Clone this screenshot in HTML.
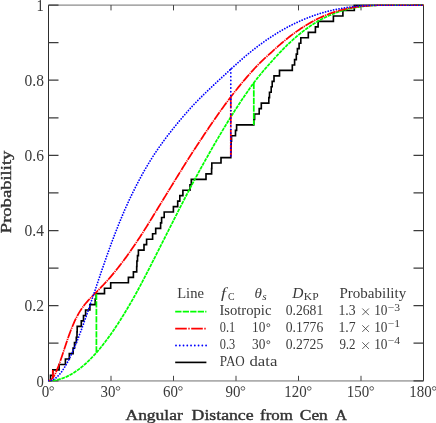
<!DOCTYPE html>
<html><head><meta charset="utf-8"><title>chart</title><style>html,body{margin:0;padding:0;background:#fff}svg{display:block}.t,.t text,.t tspan{font-family:"Liberation Serif",serif}</style></head><body>
<svg width="436" height="423" viewBox="0 0 436 423">
<rect width="436" height="423" fill="#fff"/>
<g stroke="#2e2e2e" fill="none">
<path d="M48.5,5.10V380.80M423.5,5.10V380.80" stroke-width="1"/>
<path d="M48.5,5.10H423.5M48.5,380.95H423.5" stroke-width="0.8" stroke="#4a4a4a"/>
<path d="M48.5,380.80h10M423.5,380.80h-10M48.5,343.23h10M423.5,343.23h-10M48.5,305.66h10M423.5,305.66h-10M48.5,268.09h10M423.5,268.09h-10M48.5,230.52h10M423.5,230.52h-10M48.5,192.95h10M423.5,192.95h-10M48.5,155.38h10M423.5,155.38h-10M48.5,117.81h10M423.5,117.81h-10M48.5,80.24h10M423.5,80.24h-10M48.5,42.67h10M423.5,42.67h-10M48.5,5.10h10M423.5,5.10h-10" stroke-width="1.25" stroke="#3c3c3c"/>
<path d="M111.00,5.10v5.3M111.00,380.80v-5M173.50,5.10v5.3M173.50,380.80v-5M236.00,5.10v5.3M236.00,380.80v-5M298.50,5.10v5.3M298.50,380.80v-5M361.00,5.10v5.3M361.00,380.80v-5" stroke-width="0.9"/>
</g>
<clipPath id="cp"><rect x="47.9" y="4.60" width="376.2" height="376.90"/></clipPath>
<g fill="none" clip-path="url(#cp)">
<path d="M48.5,380.80H50.5V375.36H52.8V369.91H59.1V364.47H65.4V359.02H69.3V353.58H73.1V348.13H74.5V342.69H76.3V337.24H77.0V331.80H77.2V326.35H81.3V320.91H83.5V315.46H85.6V310.02H89.9V304.57H95.2V299.13H96.2V293.68H104.5V288.24H110.7V282.79H128.4V277.35H133.4V271.90H136.7V266.46H136.9V261.01H137.5V255.57H138.4V250.12H144.0V244.68H146.6V239.23H152.6V233.79H155.7V228.34H160.6V222.90H161.6V217.45H164.2V212.01H173.4V206.56H177.7V201.12H179.8V195.67H182.9V190.23H190.0V184.78H191.3V179.34H206.0V173.89H211.6V168.45H211.8V163.00H221.0V157.56H230.8V152.11H231.0V146.67H231.2V141.22H231.5V135.78H235.5V130.33H236.6V124.89H253.8V119.44H254.6V114.00H259.2V108.55H261.3V103.11H268.8V97.66H269.5V92.22H271.2V86.77H272.2V81.33H274.0V75.88H279.5V70.44H292.3V64.99H294.6V59.55H296.3V54.10H297.4V48.66H299.1V43.21H300.8V37.77H308.3V32.32H315.4V26.88H318.1V21.43H333.4V15.99H342.9V10.54H354.3V5.10H423.5" stroke="#000" stroke-width="1.65" stroke-linejoin="miter"/>
<g stroke="#00ff00" stroke-width="1.75">
<path d="M48.50,380.80L49.54,380.79L50.58,380.74L51.62,380.68L52.67,380.58L53.71,380.45L54.75,380.30L55.79,380.13L56.83,379.92L57.88,379.68L58.92,379.43L59.96,379.13L61.00,378.82L62.04,378.48L63.08,378.10L64.12,377.71L65.17,377.29L66.21,376.84L67.25,376.36L68.29,375.85L69.33,375.32L70.38,374.76L71.42,374.18L72.46,373.57L73.50,372.94L74.54,372.27L75.58,371.58L76.62,370.88L77.67,370.13L78.71,369.37L79.75,368.58L80.79,367.76L81.83,366.93L82.88,366.06L83.92,365.17L84.96,364.25L86.00,363.32L87.04,362.35L88.08,361.36L89.12,360.35L90.17,359.31L91.21,358.25L92.25,357.18L93.29,356.07L94.33,354.94L95.38,353.79L96.42,352.62L97.46,351.43L98.50,350.21L99.54,348.97L100.58,347.71L101.62,346.42L102.67,345.13L103.71,343.79L104.75,342.46L105.79,341.08L106.83,339.70L107.88,338.29L108.92,336.87L109.96,335.42L111.00,333.96L112.04,332.47L113.08,330.97L114.12,329.46L115.17,327.92L116.21,326.35L117.25,324.77L118.29,323.18L119.33,321.57L120.38,319.94L121.42,318.30L122.46,316.63L123.50,314.95L124.54,313.25L125.58,311.55L126.62,309.82L127.67,308.07L128.71,306.31L129.75,304.53L130.79,302.74L131.83,300.92L132.88,299.11L133.92,297.26L134.96,295.40L136.00,293.52L137.04,291.64L138.08,289.71L139.12,287.78L140.17,285.84L141.21,283.88L142.25,281.93L143.29,279.94L144.33,277.94L145.38,275.95L146.42,273.93L147.46,271.91L148.50,269.88L149.54,267.85L150.58,265.79L151.62,263.74L152.67,261.71L153.71,259.63L154.75,257.57L155.79,255.52L156.83,253.44L157.88,251.40L158.92,249.33L159.96,247.26L161.00,245.21L162.04,243.15L163.08,241.09L164.12,239.03L165.17,236.98L166.21,234.90L167.25,232.84L168.29,230.79L169.33,228.71L170.38,226.66L171.42,224.62L172.46,222.54L173.50,220.48L174.54,218.43L175.58,216.36L176.62,214.31L177.67,212.27L178.71,210.20L179.75,208.18L180.79,206.15L181.83,204.10L182.88,202.07L183.92,200.04L184.96,198.01L186.00,196.01L187.04,194.00L188.08,192.00L189.12,190.01L190.17,188.03L191.21,186.07L192.25,184.11L193.29,182.17L194.33,180.24L195.38,178.31L196.42,176.39L197.46,174.47L198.50,172.57L199.54,170.68L200.58,168.77L201.62,166.90L202.67,165.02L203.71,163.15L204.75,161.28L205.79,159.43L206.83,157.57L207.88,155.72L208.92,153.88L209.96,152.04L211.00,150.22L212.04,148.40L213.08,146.57L214.12,144.79L215.17,142.97L216.21,141.18L217.25,139.40L218.29,137.64L219.33,135.85L220.38,134.12L221.42,132.35L222.46,130.60L223.50,128.88L224.54,127.13L225.58,125.43L226.62,123.72L227.67,122.02L228.71,120.32L229.75,118.64L230.79,116.98L231.83,115.30L232.88,113.66L233.92,112.02L234.96,110.37L236.00,108.78L237.04,107.17L238.08,105.55L239.12,103.97L240.17,102.40L241.21,100.83L242.25,99.28L243.29,97.73L244.33,96.19L245.38,94.68L246.42,93.17L247.46,91.68L248.50,90.19L249.54,88.73L250.58,87.25L251.63,85.80L252.67,84.39L253.71,82.95L254.75,81.57L255.79,80.22L256.83,78.86L257.88,77.54L258.92,76.24L259.96,74.95L261.00,73.70L262.04,72.45L263.08,71.20L264.12,69.99L265.17,68.78L266.21,67.58L267.25,66.42L268.29,65.23L269.33,64.05L270.38,62.91L271.42,61.74L272.46,60.58L273.50,59.44L274.54,58.28L275.58,57.12L276.62,55.99L277.67,54.85L278.71,53.73L279.75,52.63L280.79,51.54L281.83,50.45L282.88,49.38L283.92,48.33L284.96,47.28L286.00,46.26L287.04,45.24L288.08,44.22L289.12,43.24L290.17,42.27L291.21,41.28L292.25,40.34L293.29,39.41L294.33,38.47L295.38,37.57L296.42,36.68L297.46,35.79L298.50,34.94L299.54,34.08L300.58,33.23L301.62,32.43L302.67,31.61L303.71,30.80L304.75,30.03L305.79,29.26L306.83,28.49L307.88,27.75L308.92,27.02L309.96,26.30L311.00,25.60L312.04,24.91L313.08,24.23L314.12,23.56L315.17,22.92L316.21,22.27L317.25,21.66L318.29,21.05L319.33,20.45L320.38,19.89L321.42,19.32L322.46,18.76L323.50,18.23L324.54,17.71L325.58,17.20L326.62,16.70L327.67,16.22L328.71,15.75L329.75,15.29L330.79,14.85L331.83,14.41L332.88,13.99L333.92,13.58L334.96,13.18L336.00,12.80L337.04,12.42L338.08,12.05L339.12,11.70L340.17,11.36L341.21,11.02L342.25,10.71L343.29,10.40L344.33,10.09L345.38,9.81L346.42,9.53L347.46,9.26L348.50,9.00L349.54,8.75L350.58,8.51L351.62,8.28L352.67,8.07L353.71,7.85L354.75,7.65L355.79,7.46L356.83,7.27L357.88,7.10L358.92,6.94L359.96,6.78L361.00,6.63L362.04,6.49L363.08,6.35L364.12,6.23L365.17,6.11L366.21,6.00L367.25,5.90L368.29,5.80L369.33,5.71L370.38,5.63L371.42,5.55L372.46,5.48L373.50,5.42L374.54,5.37L375.58,5.31L376.62,5.27L377.67,5.23L378.71,5.20L379.75,5.20L380.79,5.20L381.83,5.20L382.88,5.20L383.92,5.20L384.96,5.20L386.00,5.20L387.04,5.20L388.08,5.20L389.12,5.20L390.17,5.20L391.21,5.20L392.25,5.20L393.29,5.20L394.33,5.20L395.38,5.20L396.42,5.20L397.46,5.20L398.50,5.20L399.54,5.20L400.58,5.20L401.62,5.20L402.67,5.20L403.71,5.20L404.75,5.20L405.79,5.20L406.83,5.20L407.88,5.20L408.92,5.20L409.96,5.20L411.00,5.20L412.04,5.20L413.08,5.20L414.12,5.20L415.17,5.20L416.21,5.20L417.25,5.20L418.29,5.20L419.33,5.20L420.38,5.20L421.42,5.20L422.46,5.20L423.50,5.20" stroke-dasharray="3.6 0.8"/>
<path d="M96.4,293.68V352.64" stroke-dasharray="6.3 1.2"/>
<path d="M253.8,82.83V124.89" stroke-dasharray="6.3 1.2"/>
</g>
<g stroke="#ff0000" stroke-width="1.75">
<path d="M48.50,380.80L49.54,380.62L50.58,380.07L51.62,379.22L52.67,377.99L53.71,376.46L54.75,374.66L55.79,372.60L56.83,370.19L57.88,367.63L58.92,364.97L59.96,362.00L61.00,359.03L62.04,355.99L63.08,352.79L64.12,349.65L65.17,346.50L66.21,343.38L67.25,340.30L68.29,337.26L69.33,334.36L70.38,331.54L71.42,328.83L72.46,326.25L73.50,323.82L74.54,321.47L75.58,319.25L76.62,317.20L77.67,315.22L78.71,313.38L79.75,311.64L80.79,310.00L81.83,308.47L82.88,307.01L83.92,305.61L84.96,304.29L86.00,303.04L87.04,301.82L88.08,300.65L89.12,299.52L90.17,298.41L91.21,297.32L92.25,296.26L93.29,295.20L94.33,294.15L95.38,293.10L96.42,292.05L97.46,291.00L98.50,289.95L99.54,288.88L100.58,287.81L101.62,286.72L102.67,285.63L103.71,284.52L104.75,283.40L105.79,282.26L106.83,281.11L107.88,279.94L108.92,278.77L109.96,277.56L111.00,276.36L112.04,275.13L113.08,273.89L114.12,272.64L115.17,271.37L116.21,270.08L117.25,268.78L118.29,267.46L119.33,266.13L120.38,264.79L121.42,263.43L122.46,262.06L123.50,260.68L124.54,259.27L125.58,257.86L126.62,256.44L127.67,255.00L128.71,253.54L129.75,252.08L130.79,250.60L131.83,249.10L132.88,247.61L133.92,246.08L134.96,244.55L136.00,243.00L137.04,241.44L138.08,239.85L139.12,238.26L140.17,236.66L141.21,235.05L142.25,233.44L143.29,231.79L144.33,230.14L145.38,228.50L146.42,226.84L147.46,225.17L148.50,223.50L149.54,221.82L150.58,220.12L151.62,218.43L152.67,216.76L153.71,215.04L154.75,213.35L155.79,211.66L156.83,209.93L157.88,208.26L158.92,206.54L159.96,204.84L161.00,203.15L162.04,201.45L163.08,199.75L164.12,198.05L165.17,196.36L166.21,194.64L167.25,192.95L168.29,191.25L169.33,189.54L170.38,187.84L171.42,186.16L172.46,184.45L173.50,182.75L174.54,181.06L175.58,179.35L176.62,177.66L177.67,175.98L178.71,174.28L179.75,172.60L180.79,170.93L181.83,169.24L182.88,167.57L183.92,165.89L184.96,164.22L186.00,162.57L187.04,160.91L188.08,159.26L189.12,157.62L190.17,155.98L191.21,154.37L192.25,152.75L193.29,151.15L194.33,149.56L195.38,147.97L196.42,146.38L197.46,144.79L198.50,143.21L199.54,141.64L200.58,140.05L201.62,138.49L202.67,136.92L203.71,135.36L204.75,133.80L205.79,132.25L206.83,130.69L207.88,129.14L208.92,127.60L209.96,126.06L211.00,124.54L212.04,123.01L213.08,121.48L214.12,119.99L215.17,118.47L216.21,116.98L217.25,115.49L218.29,114.02L219.33,112.52L220.38,111.08L221.42,109.61L222.46,108.16L223.50,106.73L224.54,105.29L225.58,103.88L226.62,102.47L227.67,101.07L228.71,99.67L229.75,98.30L230.79,96.94L231.83,95.57L232.88,94.23L233.92,92.89L234.96,91.55L236.00,90.26L237.04,88.95L238.08,87.64L239.12,86.36L240.17,85.08L241.21,83.81L242.25,82.56L243.29,81.31L244.33,80.07L245.38,78.85L246.42,77.63L247.46,76.43L248.50,75.23L249.54,74.05L250.58,72.86L251.63,71.69L252.67,70.55L253.71,69.39L254.75,68.27L255.79,67.16L256.83,66.05L257.88,64.98L258.92,63.92L259.96,62.88L261.00,61.88L262.04,60.88L263.08,59.88L264.12,58.91L265.17,57.94L266.21,56.98L267.25,56.05L268.29,55.10L269.33,54.15L270.38,53.24L271.42,52.29L272.46,51.35L273.50,50.42L274.54,49.47L275.58,48.51L276.62,47.58L277.67,46.64L278.71,45.71L279.75,44.81L280.79,43.91L281.83,43.01L282.88,42.13L283.92,41.26L284.96,40.39L286.00,39.54L287.04,38.70L288.08,37.86L289.12,37.05L290.17,36.24L291.21,35.43L292.25,34.65L293.29,33.88L294.33,33.10L295.38,32.36L296.42,31.62L297.46,30.88L298.50,30.17L299.54,29.46L300.58,28.75L301.62,28.08L302.67,27.40L303.71,26.73L304.75,26.09L305.79,25.44L306.83,24.79L307.88,24.18L308.92,23.57L309.96,22.96L311.00,22.37L312.04,21.79L313.08,21.22L314.12,20.66L315.17,20.12L316.21,19.58L317.25,19.07L318.29,18.55L319.33,18.05L320.38,17.57L321.42,17.09L322.46,16.62L323.50,16.17L324.54,15.73L325.58,15.29L326.62,14.87L327.67,14.45L328.71,14.05L329.75,13.65L330.79,13.27L331.83,12.89L332.88,12.53L333.92,12.18L334.96,11.83L336.00,11.51L337.04,11.18L338.08,10.87L339.12,10.57L340.17,10.28L341.21,10.00L342.25,9.73L343.29,9.47L344.33,9.22L345.38,8.98L346.42,8.75L347.46,8.53L348.50,8.32L349.54,8.11L350.58,7.91L351.62,7.73L352.67,7.55L353.71,7.37L354.75,7.21L355.79,7.05L356.83,6.89L357.88,6.75L358.92,6.61L359.96,6.48L361.00,6.36L362.04,6.24L363.08,6.13L364.12,6.03L365.17,5.93L366.21,5.84L367.25,5.76L368.29,5.68L369.33,5.60L370.38,5.54L371.42,5.47L372.46,5.42L373.50,5.37L374.54,5.32L375.58,5.28L376.62,5.24L377.67,5.21L378.71,5.20L379.75,5.20L380.79,5.20L381.83,5.20L382.88,5.20L383.92,5.20L384.96,5.20L386.00,5.20L387.04,5.20L388.08,5.20L389.12,5.20L390.17,5.20L391.21,5.20L392.25,5.20L393.29,5.20L394.33,5.20L395.38,5.20L396.42,5.20L397.46,5.20L398.50,5.20L399.54,5.20L400.58,5.20L401.62,5.20L402.67,5.20L403.71,5.20L404.75,5.20L405.79,5.20L406.83,5.20L407.88,5.20L408.92,5.20L409.96,5.20L411.00,5.20L412.04,5.20L413.08,5.20L414.12,5.20L415.17,5.20L416.21,5.20L417.25,5.20L418.29,5.20L419.33,5.20L420.38,5.20L421.42,5.20L422.46,5.20L423.50,5.20" stroke-dasharray="9.2 0.8 1.2 0.8"/>
<path d="M230.8,96.93V157.56" stroke-dasharray="11.6 1.5 1.4 1.5"/>
<path d="M52.8,369.91V377.80" stroke-dasharray="11.6 1.5 1.4 1.5"/>
</g>
<g stroke="#0000ff" stroke-width="1.8" stroke-linecap="round">
<path d="M48.50,380.80L49.54,380.74L50.58,380.56L51.62,380.28L52.67,379.86L53.71,379.33L54.75,378.71L55.79,377.97L56.83,377.07L57.88,376.10L58.92,375.04L59.96,373.81L61.00,372.53L62.04,371.15L63.08,369.62L64.12,368.03L65.17,366.33L66.21,364.55L67.25,362.66L68.29,360.66L69.33,358.62L70.38,356.48L71.42,354.26L72.46,351.96L73.50,349.63L74.54,347.17L75.58,344.65L76.62,342.12L77.67,339.47L78.71,336.80L79.75,334.07L80.79,331.29L81.83,328.50L82.88,325.62L83.92,322.70L84.96,319.76L86.00,316.81L87.04,313.80L88.08,310.79L89.12,307.76L90.17,304.70L91.21,301.62L92.25,298.57L93.29,295.47L94.33,292.39L95.38,289.30L96.42,286.21L97.46,283.13L98.50,280.04L99.54,276.96L100.58,273.90L101.62,270.86L102.67,267.84L103.71,264.81L104.75,261.84L105.79,258.85L106.83,255.90L107.88,252.97L108.92,250.09L109.96,247.20L111.00,244.37L112.04,241.55L113.08,238.76L114.12,236.03L115.17,233.32L116.21,230.62L117.25,227.97L118.29,225.35L119.33,222.77L120.38,220.23L121.42,217.72L122.46,215.24L123.50,212.80L124.54,210.39L125.58,208.03L126.62,205.70L127.67,203.39L128.71,201.12L129.75,198.89L130.79,196.69L131.83,194.51L132.88,192.39L133.92,190.27L134.96,188.19L136.00,186.13L137.04,184.11L138.08,182.10L139.12,180.13L140.17,178.18L141.21,176.26L142.25,174.39L143.29,172.51L144.33,170.66L145.38,168.86L146.42,167.08L147.46,165.32L148.50,163.58L149.54,161.87L150.58,160.17L151.62,158.51L152.67,156.89L153.71,155.25L154.75,153.66L155.79,152.10L156.83,150.54L157.88,149.03L158.92,147.51L159.96,146.03L161.00,144.57L162.04,143.12L163.08,141.69L164.12,140.28L165.17,138.88L166.21,137.48L167.25,136.11L168.29,134.76L169.33,133.40L170.38,132.07L171.42,130.76L172.46,129.43L173.50,128.13L174.54,126.85L175.58,125.56L176.62,124.29L177.67,123.03L178.71,121.76L179.75,120.53L180.79,119.30L181.83,118.06L182.88,116.85L183.92,115.63L184.96,114.42L186.00,113.24L187.04,112.05L188.08,110.87L189.12,109.71L190.17,108.54L191.21,107.41L192.25,106.27L193.29,105.16L194.33,104.06L195.38,102.96L196.42,101.88L197.46,100.80L198.50,99.74L199.54,98.69L200.58,97.64L201.62,96.60L202.67,95.57L203.71,94.54L204.75,93.53L205.79,92.52L206.83,91.51L207.88,90.50L208.92,89.51L209.96,88.51L211.00,87.53L212.04,86.55L213.08,85.56L214.12,84.59L215.17,83.61L216.21,82.64L217.25,81.67L218.29,80.71L219.33,79.73L220.38,78.79L221.42,77.82L222.46,76.85L223.50,75.90L224.54,74.93L225.58,73.97L226.62,73.01L227.67,72.05L228.71,71.09L229.75,70.13L230.79,69.18L231.83,68.23L232.88,67.28L233.92,66.33L234.96,65.38L236.00,64.46L237.04,63.53L238.08,62.59L239.12,61.67L240.17,60.75L241.21,59.83L242.25,58.92L243.29,58.02L244.33,57.12L245.38,56.24L246.42,55.36L247.46,54.48L248.50,53.62L249.54,52.77L250.58,51.91L251.63,51.07L252.67,50.25L253.71,49.42L254.75,48.61L255.79,47.82L256.83,47.02L257.88,46.23L258.92,45.45L259.96,44.67L261.00,43.92L262.04,43.16L263.08,42.40L264.12,41.66L265.17,40.93L266.21,40.19L267.25,39.49L268.29,38.77L269.33,38.06L270.38,37.38L271.42,36.69L272.46,36.01L273.50,35.35L274.54,34.69L275.58,34.04L276.62,33.40L277.67,32.76L278.71,32.14L279.75,31.52L280.79,30.91L281.83,30.31L282.88,29.71L283.92,29.13L284.96,28.54L286.00,27.97L287.04,27.41L288.08,26.85L289.12,26.31L290.17,25.77L291.21,25.22L292.25,24.70L293.29,24.19L294.33,23.67L295.38,23.17L296.42,22.68L297.46,22.19L298.50,21.71L299.54,21.24L300.58,20.77L301.62,20.32L302.67,19.87L303.71,19.43L304.75,19.00L305.79,18.57L306.83,18.15L307.88,17.74L308.92,17.34L309.96,16.94L311.00,16.56L312.04,16.18L313.08,15.81L314.12,15.44L315.17,15.09L316.21,14.73L317.25,14.39L318.29,14.06L319.33,13.72L320.38,13.41L321.42,13.09L322.46,12.78L323.50,12.49L324.54,12.20L325.58,11.91L326.62,11.63L327.67,11.36L328.71,11.09L329.75,10.84L330.79,10.59L331.83,10.34L332.88,10.11L333.92,9.87L334.96,9.65L336.00,9.43L337.04,9.22L338.08,9.01L339.12,8.82L340.17,8.62L341.21,8.43L342.25,8.26L343.29,8.08L344.33,7.91L345.38,7.75L346.42,7.59L347.46,7.44L348.50,7.30L349.54,7.16L350.58,7.02L351.62,6.89L352.67,6.77L353.71,6.65L354.75,6.54L355.79,6.43L356.83,6.32L357.88,6.23L358.92,6.13L359.96,6.04L361.00,5.96L362.04,5.88L363.08,5.80L364.12,5.74L365.17,5.67L366.21,5.61L367.25,5.55L368.29,5.49L369.33,5.44L370.38,5.40L371.42,5.36L372.46,5.32L373.50,5.28L374.54,5.25L375.58,5.22L376.62,5.20L377.67,5.20L378.71,5.20L379.75,5.20L380.79,5.20L381.83,5.20L382.88,5.20L383.92,5.20L384.96,5.20L386.00,5.20L387.04,5.20L388.08,5.20L389.12,5.20L390.17,5.20L391.21,5.20L392.25,5.20L393.29,5.20L394.33,5.20L395.38,5.20L396.42,5.20L397.46,5.20L398.50,5.20L399.54,5.20L400.58,5.20L401.62,5.20L402.67,5.20L403.71,5.20L404.75,5.20L405.79,5.20L406.83,5.20L407.88,5.20L408.92,5.20L409.96,5.20L411.00,5.20L412.04,5.20L413.08,5.20L414.12,5.20L415.17,5.20L416.21,5.20L417.25,5.20L418.29,5.20L419.33,5.20L420.38,5.20L421.42,5.20L422.46,5.20L423.50,5.20" stroke-dasharray="0.01 2.75"/>
<path d="M230.8,69.18V157.56" stroke-dasharray="0.01 3.75"/>
</g>
</g>
<defs><filter id="gs" x="0" y="0" width="436" height="423" filterUnits="userSpaceOnUse" color-interpolation-filters="sRGB"><feColorMatrix type="saturate" values="0"/></filter></defs>
<g class="t" fill="#3a3a3a" filter="url(#gs)">
<text x="36.6" y="386.8" font-size="16.0" textLength="7.3" lengthAdjust="spacingAndGlyphs">0</text>
<text x="24.5" y="311.2" font-size="16.0" textLength="19.4" lengthAdjust="spacingAndGlyphs">0.2</text>
<text x="24.5" y="236.0" font-size="16.0" textLength="19.4" lengthAdjust="spacingAndGlyphs">0.4</text>
<text x="24.5" y="160.9" font-size="16.0" textLength="19.4" lengthAdjust="spacingAndGlyphs">0.6</text>
<text x="24.5" y="85.7" font-size="16.0" textLength="19.4" lengthAdjust="spacingAndGlyphs">0.8</text>
<text x="36.6" y="11.1" font-size="16.0" textLength="7.3" lengthAdjust="spacingAndGlyphs">1</text>
<text x="41.8" y="397.0" font-size="16.0" textLength="7.5" lengthAdjust="spacingAndGlyphs">0</text>
<text x="100.5" y="397.0" font-size="16.0" textLength="14.9" lengthAdjust="spacingAndGlyphs">30</text>
<text x="163.0" y="397.0" font-size="16.0" textLength="14.9" lengthAdjust="spacingAndGlyphs">60</text>
<text x="225.5" y="397.0" font-size="16.0" textLength="14.9" lengthAdjust="spacingAndGlyphs">90</text>
<text x="284.3" y="397.0" font-size="16.0" textLength="22.4" lengthAdjust="spacingAndGlyphs">120</text>
<text x="346.8" y="397.0" font-size="16.0" textLength="22.4" lengthAdjust="spacingAndGlyphs">150</text>
<text x="409.3" y="397.0" font-size="16.0" textLength="22.4" lengthAdjust="spacingAndGlyphs">180</text>
<text x="125.5" y="420.2" font-size="14.4" textLength="57.3" lengthAdjust="spacingAndGlyphs" stroke="#333" stroke-width="0.4" fill="#333">Angular</text>
<text x="191.6" y="420.2" font-size="14.4" textLength="62.0" lengthAdjust="spacingAndGlyphs" stroke="#333" stroke-width="0.4" fill="#333">Distance</text>
<text x="260.1" y="420.2" font-size="14.4" textLength="32.8" lengthAdjust="spacingAndGlyphs" stroke="#333" stroke-width="0.4" fill="#333">from</text>
<text x="299.8" y="420.2" font-size="14.4" textLength="28.0" lengthAdjust="spacingAndGlyphs" stroke="#333" stroke-width="0.4" fill="#333">Cen</text>
<text x="335.4" y="420.2" font-size="14.4" textLength="11.4" lengthAdjust="spacingAndGlyphs" stroke="#333" stroke-width="0.4" fill="#333">A</text>
<text transform="translate(11.2,233.2) rotate(-90)" font-size="14.4" stroke="#333" stroke-width="0.4" fill="#333" textLength="82.6" lengthAdjust="spacingAndGlyphs">Probability</text>
<text x="177.2" y="298.4" font-size="13.8" textLength="26.8" lengthAdjust="spacingAndGlyphs">Line</text>
<text x="220.9" y="298.4" font-size="13.8" textLength="5.0" lengthAdjust="spacingAndGlyphs" font-style="italic">f</text>
<text x="227.9" y="300.4" font-size="10.4" textLength="6.6" lengthAdjust="spacingAndGlyphs">C</text>
<text x="254.6" y="298.4" font-size="13.8" textLength="7.4" lengthAdjust="spacingAndGlyphs" font-style="italic">θ</text>
<text x="262.2" y="300.4" font-size="10.4" textLength="4.4" lengthAdjust="spacingAndGlyphs" font-style="italic">s</text>
<text x="292.3" y="298.4" font-size="13.8" textLength="11.2" lengthAdjust="spacingAndGlyphs" font-style="italic">D</text>
<text x="303.8" y="300.4" font-size="10.4" textLength="14.8" lengthAdjust="spacingAndGlyphs">KP</text>
<text x="339.4" y="298.4" font-size="13.8" textLength="66.8" lengthAdjust="spacingAndGlyphs">Probability</text>
<text x="219.4" y="315.2" font-size="13.8" textLength="52.0" lengthAdjust="spacingAndGlyphs">Isotropic</text>
<text x="219.8" y="332.0" font-size="13.8" textLength="15.4" lengthAdjust="spacingAndGlyphs">0.1</text>
<text x="252.0" y="332.0" font-size="13.8" textLength="13.3" lengthAdjust="spacingAndGlyphs">10</text>
<text x="219.8" y="349.0" font-size="13.8" textLength="15.4" lengthAdjust="spacingAndGlyphs">0.3</text>
<text x="252.0" y="349.0" font-size="13.8" textLength="13.3" lengthAdjust="spacingAndGlyphs">30</text>
<text x="219.8" y="366.0" font-size="13.8" textLength="25.0" lengthAdjust="spacingAndGlyphs">PAO</text>
<text x="249.5" y="366.0" font-size="13.8" textLength="27.8" lengthAdjust="spacingAndGlyphs">data</text>
<text x="285.7" y="315.2" font-size="13.8" textLength="37.6" lengthAdjust="spacingAndGlyphs">0.2681</text>
<text x="285.7" y="332.0" font-size="13.8" textLength="37.6" lengthAdjust="spacingAndGlyphs">0.1776</text>
<text x="285.7" y="349.0" font-size="13.8" textLength="37.6" lengthAdjust="spacingAndGlyphs">0.2725</text>
<text x="338.4" y="315.2" font-size="13.8" textLength="17.2" lengthAdjust="spacingAndGlyphs">1.3</text>
<text x="374.2" y="315.2" font-size="13.8" textLength="13.3" lengthAdjust="spacingAndGlyphs">10</text>
<text x="387.8" y="310.59999999999997" font-size="9.8" textLength="12.4" lengthAdjust="spacingAndGlyphs">−3</text>
<text x="338.4" y="332.0" font-size="13.8" textLength="17.2" lengthAdjust="spacingAndGlyphs">1.7</text>
<text x="374.2" y="332.0" font-size="13.8" textLength="13.3" lengthAdjust="spacingAndGlyphs">10</text>
<text x="387.8" y="327.4" font-size="9.8" textLength="12.4" lengthAdjust="spacingAndGlyphs">−1</text>
<text x="339.4" y="349.0" font-size="13.8" textLength="16.2" lengthAdjust="spacingAndGlyphs">9.2</text>
<text x="374.2" y="349.0" font-size="13.8" textLength="13.3" lengthAdjust="spacingAndGlyphs">10</text>
<text x="387.8" y="344.4" font-size="9.8" textLength="12.4" lengthAdjust="spacingAndGlyphs">−4</text>
</g>
<g fill="none" stroke="#3a3a3a" stroke-width="0.8"><circle cx="51.7" cy="388.4" r="1.85"/><circle cx="118.0" cy="388.4" r="1.85"/><circle cx="180.4" cy="388.4" r="1.85"/><circle cx="242.9" cy="388.4" r="1.85"/><circle cx="309.2" cy="388.4" r="1.85"/><circle cx="371.7" cy="388.4" r="1.85"/><circle cx="434.2" cy="388.4" r="1.85"/><circle cx="268.3" cy="325.2" r="1.5"/><circle cx="268.3" cy="342.2" r="1.5"/></g>
<path fill="none" stroke="#3a3a3a" stroke-width="0.8" d="M362.3,308.5l6.6,6.6M362.3,315.1l6.6,-6.6M362.3,325.3l6.6,6.6M362.3,331.9l6.6,-6.6M362.3,342.3l6.6,6.6M362.3,348.9l6.6,-6.6"/>
<g fill="none" stroke-width="1.75">
<path d="M175.2,311.5H206.4" stroke="#00ff00" stroke-dasharray="6.3 1.2"/>
<path d="M175.2,328.5H206.4" stroke="#ff0000" stroke-dasharray="11.6 1.5 1.4 1.5"/>
<path d="M176,345.5H206.6" stroke="#0000ff" stroke-width="1.8" stroke-linecap="round" stroke-dasharray="0.01 3.75"/>
<path d="M175.2,362.4H206.4" stroke="#000" stroke-width="1.65"/>
</g>
</svg>
</body></html>
